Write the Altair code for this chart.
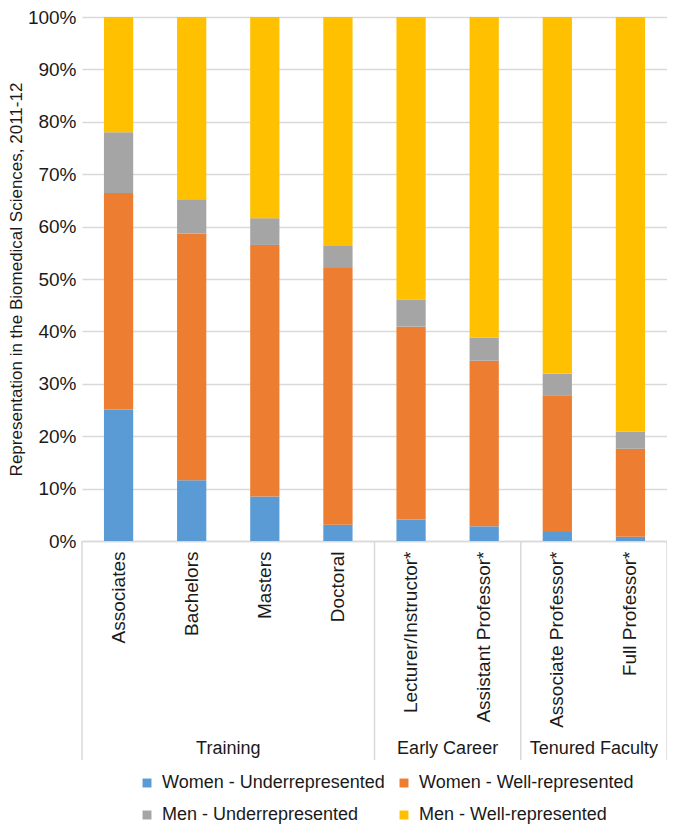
import altair as alt
import pandas as pd

categories = ["Associates", "Bachelors", "Masters", "Doctoral",
              "Lecturer/Instructor*", "Assistant Professor*",
              "Associate Professor*", "Full Professor*"]
series = ["Women - Underrepresented", "Women - Well-represented",
          "Men - Underrepresented", "Men - Well-represented"]
colors = ["#5B9BD5", "#ED7D31", "#A5A5A5", "#FFC000"]

women_under = [25.1, 11.6, 8.5, 3.1, 4.1, 2.8, 1.9, 0.8]
women_well = [41.3, 47.1, 48.0, 49.0, 36.8, 31.6, 25.9, 16.8]
men_under = [11.6, 6.5, 5.1, 4.2, 5.2, 4.4, 4.1, 3.3]
men_well = [22.0, 34.8, 38.4, 43.7, 53.9, 61.2, 68.1, 79.1]

groups = ["Training", "Early Career", "Tenured Faculty"]
group_mid_cat = ["Bachelors", "Lecturer/Instructor*", "Associate Professor*"]   # group centre = end of this band
group_start_cat = ["Associates", "Lecturer/Instructor*", "Associate Professor*"]
last_cat = ["Full Professor*"]

FONT = "Liberation Sans"
TXT = "#1a1a1a"
GRID = "#D9D9D9"

rows = []
for s_i, (name, vals) in enumerate(zip(series, [women_under, women_well, men_under, men_well])):
    for c, v in zip(categories, vals):
        rows.append({"category": c, "series": name, "idx": s_i, "value": v / 100.0})
df = pd.DataFrame(rows)

W, H = 585, 524
PAD_LEFT = 74

xscale = alt.Scale(domain=categories, paddingInner=0, paddingOuter=0)
xaxis = alt.Axis(title=None, labelAngle=-90, labelFontSize=19, labelFont=FONT,
                 labelColor=TXT, labelPadding=10, ticks=False, grid=False,
                 domainColor=GRID, domainWidth=1.5)

bars = alt.Chart(df).mark_bar(width=alt.RelativeBandSize(0.4)).encode(
    x=alt.X("category:N", scale=xscale, sort=categories, axis=xaxis),
    y=alt.Y("value:Q", stack="zero",
            scale=alt.Scale(domain=[0, 1]),
            axis=alt.Axis(format=".0%", values=[i / 10 for i in range(11)],
                          title="Representation in the Biomedical Sciences, 2011-12",
                          titleFontSize=17, titleFont=FONT, titleFontWeight="normal",
                          titleColor=TXT, titlePadding=2,
                          labelFontSize=19, labelFont=FONT, labelColor=TXT,
                          labelPadding=6, ticks=False, domain=False,
                          gridColor=GRID, gridWidth=1.5)),
    color=alt.Color("series:N", scale=alt.Scale(domain=series, range=colors),
                    legend=alt.Legend(title=None, orient="none", legendX=142 - 8 - PAD_LEFT - 4,
                                      legendY=H + 233, direction="horizontal",
                                      columns=2, symbolType="square", symbolSize=80,
                                      symbolStrokeWidth=0, labelFontSize=18,
                                      labelFont=FONT, labelColor=TXT, labelOffset=6,
                                      rowPadding=14, columnPadding=10, padding=0,
                                      labelLimit=400)),
    order=alt.Order("idx:Q", sort="ascending"),
)

sep_left = alt.Chart(pd.DataFrame({"category": group_start_cat})).mark_rule(
    color=GRID, strokeWidth=1.5).encode(
    x=alt.X("category:N", scale=xscale, sort=categories, axis=xaxis, bandPosition=0),
    y=alt.value(H), y2=alt.value(H + 219))

sep_right = alt.Chart(pd.DataFrame({"category": last_cat})).mark_rule(
    color=GRID, strokeWidth=1.5).encode(
    x=alt.X("category:N", scale=xscale, sort=categories, axis=xaxis, bandPosition=1),
    y=alt.value(H), y2=alt.value(H + 219))

grp = alt.Chart(pd.DataFrame({"group": groups, "category": group_mid_cat})).mark_text(
    font=FONT, fontSize=18, color=TXT, align="center", baseline="middle").encode(
    x=alt.X("category:N", scale=xscale, sort=categories, axis=xaxis, bandPosition=1),
    y=alt.value(H + 208),
    text="group:N")

chart = alt.layer(bars, sep_left, sep_right, grp).properties(
    width=W, height=H,
    autosize=alt.AutoSizeParams(type="none"),
    padding={"left": PAD_LEFT, "top": 9, "right": 0, "bottom": 290},
).configure_view(stroke=None)

chart.save("out.html", embed_options={"renderer": "svg", "actions": False})
